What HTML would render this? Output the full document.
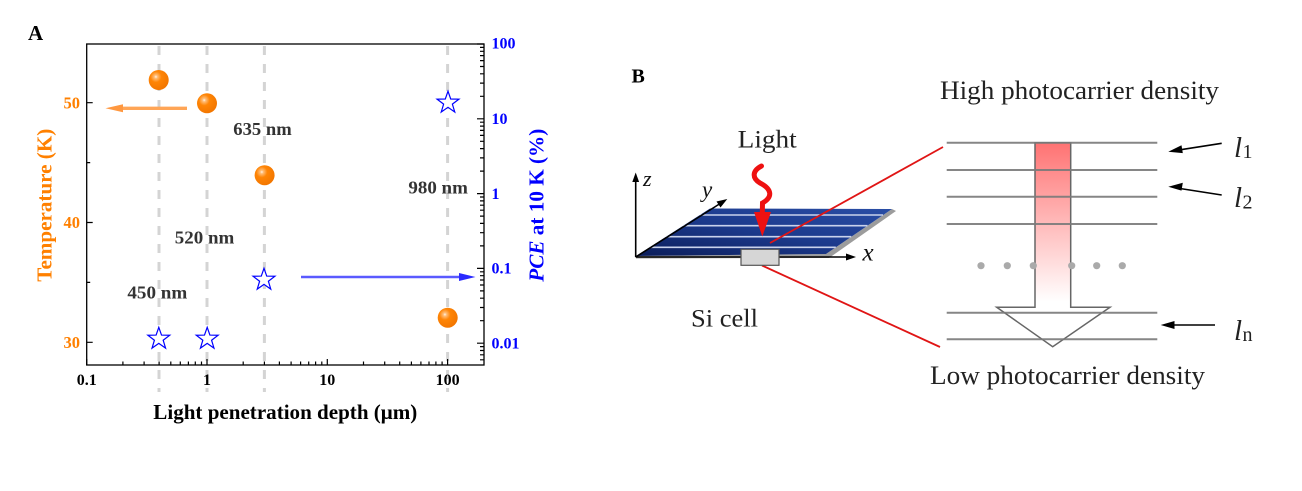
<!DOCTYPE html>
<html><head><meta charset="utf-8"><style>
html,body{margin:0;padding:0;background:#fff;}
svg{display:block;}
</style></head><body>
<svg width="1302" height="491" viewBox="0 0 1302 491" xmlns="http://www.w3.org/2000/svg">
<defs>
<radialGradient id="ball" cx="0.36" cy="0.34" r="0.68">
<stop offset="0" stop-color="#fff4e8"/>
<stop offset="0.12" stop-color="#ffbd78"/>
<stop offset="0.4" stop-color="#ff8505"/>
<stop offset="1" stop-color="#f27600"/>
</radialGradient>
<linearGradient id="panel" x1="0" y1="1" x2="1" y2="0">
<stop offset="0" stop-color="#0b1d5a"/>
<stop offset="0.5" stop-color="#1c3a8c"/>
<stop offset="1" stop-color="#2a4ea6"/>
</linearGradient>
<linearGradient id="arr" x1="0" y1="142" x2="0" y2="330" gradientUnits="userSpaceOnUse">
<stop offset="0" stop-color="#ff7272"/>
<stop offset="0.85" stop-color="#ffffff"/>
<stop offset="1" stop-color="#ffffff"/>
</linearGradient>
<polygon id="star" points="0,-11.5 2.70,-3.72 10.94,-3.55 4.38,1.42 6.76,9.30 0,4.6 -6.76,9.30 -4.38,1.42 -10.94,-3.55 -2.70,-3.72" fill="#fff" stroke="#0000ff" stroke-width="1.2" stroke-linejoin="miter"/>
</defs>
<rect width="1302" height="491" fill="#fff"/>

<!-- Panel A -->
<text x="28" y="40" font-family="Liberation Serif, serif" font-weight="bold" font-size="21">A</text>

<g stroke="#d4d4d4" stroke-width="3" stroke-dasharray="9 9">
<line x1="159" y1="46" x2="159" y2="392"/>
<line x1="207" y1="46" x2="207" y2="392"/>
<line x1="264.4" y1="46" x2="264.4" y2="392"/>
<line x1="447.6" y1="46" x2="447.6" y2="392"/>
</g>

<rect x="86.7" y="44" width="397.3" height="321" fill="none" stroke="#000" stroke-width="1.3"/>

<path stroke="#000" stroke-width="1.2" fill="none" d="
M86.7 365v-6 M207 365v-6 M327.3 365v-6 M447.6 365v-6
M122.9 365v-3.5 M144.1 365v-3.5 M159.1 365v-3.5 M170.8 365v-3.5 M180.3 365v-3.5 M188.4 365v-3.5 M195.3 365v-3.5 M201.5 365v-3.5
M243.2 365v-3.5 M264.4 365v-3.5 M279.4 365v-3.5 M291.1 365v-3.5 M300.6 365v-3.5 M308.7 365v-3.5 M315.6 365v-3.5 M321.8 365v-3.5
M363.5 365v-3.5 M384.7 365v-3.5 M399.7 365v-3.5 M411.4 365v-3.5 M420.9 365v-3.5 M429 365v-3.5 M435.9 365v-3.5 M442.1 365v-3.5
"/>
<path stroke="#000" stroke-width="1.2" fill="none" d="
M86.7 102.7h6 M86.7 222.5h6 M86.7 342.3h6 M86.7 162.6h3.5 M86.7 282.4h3.5"/>
<path stroke="#000" stroke-width="1.2" fill="none" d="
M484 44h-7 M484 118.8h-7 M484 193.6h-7 M484 268.4h-7 M484 343.2h-7
M484 359.8h-4 M484 354.8h-4 M484 350.5h-4 M484 346.6h-4
M484 320.7h-4 M484 307.5h-4 M484 298.2h-4 M484 290.9h-4 M484 285h-4 M484 280h-4 M484 275.7h-4 M484 271.8h-4
M484 245.9h-4 M484 232.7h-4 M484 223.4h-4 M484 216.1h-4 M484 210.2h-4 M484 205.2h-4 M484 200.9h-4 M484 197h-4
M484 171.1h-4 M484 157.9h-4 M484 148.6h-4 M484 141.3h-4 M484 135.4h-4 M484 130.4h-4 M484 126.1h-4 M484 122.2h-4
M484 96.3h-4 M484 83.1h-4 M484 73.8h-4 M484 66.5h-4 M484 60.6h-4 M484 55.6h-4 M484 51.3h-4 M484 47.4h-4
"/>

<g font-family="Liberation Serif, serif" font-weight="bold" font-size="16" fill="#000" text-anchor="middle">
<text x="86.7" y="385">0.1</text>
<text x="207" y="385">1</text>
<text x="327.3" y="385">10</text>
<text x="447.6" y="385">100</text>
</g>
<g font-family="Liberation Serif, serif" font-weight="bold" font-size="16.5" fill="#ff8000" text-anchor="end">
<text x="80" y="108.3">50</text>
<text x="80" y="228">40</text>
<text x="80" y="347.8">30</text>
</g>
<g font-family="Liberation Serif, serif" font-weight="bold" font-size="16" fill="#0000ff">
<text x="491.5" y="48.5">100</text>
<text x="491.5" y="124">10</text>
<text x="491.5" y="199">1</text>
<text x="491.5" y="273.5">0.1</text>
<text x="491.5" y="348.3">0.01</text>
</g>

<text x="153.3" y="419" font-family="Liberation Serif, serif" font-weight="bold" font-size="21" fill="#000" textLength="264" lengthAdjust="spacingAndGlyphs">Light penetration depth (μm)</text>
<text transform="translate(51.5,281.7) rotate(-90)" x="0" y="0" font-family="Liberation Serif, serif" font-weight="bold" font-size="21" fill="#ff8000" textLength="153" lengthAdjust="spacingAndGlyphs">Temperature (K)</text>
<text transform="translate(543.5,281.7) rotate(-90)" x="0" y="0" font-family="Liberation Serif, serif" font-weight="bold" font-size="21" fill="#0000ff" textLength="153" lengthAdjust="spacingAndGlyphs"><tspan font-style="italic">PCE</tspan> at 10 K (%)</text>

<g font-family="Liberation Serif, serif" font-weight="bold" font-size="18" fill="#333">
<text x="233.3" y="135" textLength="58.4" lengthAdjust="spacingAndGlyphs">635 nm</text>
<text x="408.4" y="193.3" textLength="59.5" lengthAdjust="spacingAndGlyphs">980 nm</text>
<text x="174.8" y="243.3" textLength="59.5" lengthAdjust="spacingAndGlyphs">520 nm</text>
<text x="127.4" y="298.3" textLength="59.9" lengthAdjust="spacingAndGlyphs">450 nm</text>
</g>

<line x1="187" y1="108.3" x2="120" y2="108.3" stroke="#ffa556" stroke-width="3.3"/>
<polygon points="105.5,108.3 123,104.3 123,112.3" fill="#ff9840"/>
<line x1="301" y1="277" x2="462" y2="277" stroke="#5a5aff" stroke-width="2.6"/>
<polygon points="475.5,277 459,273 459,281" fill="#2a2aff"/>

<circle cx="158.7" cy="80" r="10" fill="url(#ball)"/>
<circle cx="207" cy="103.3" r="10" fill="url(#ball)"/>
<circle cx="264.6" cy="175.2" r="10" fill="url(#ball)"/>
<circle cx="447.7" cy="317.7" r="10" fill="url(#ball)"/>

<use href="#star" x="158.8" y="338.8"/>
<use href="#star" x="207.2" y="338.8"/>
<use href="#star" x="264" y="279.8"/>
<use href="#star" x="448" y="102.7"/>

<!-- Panel B -->
<text x="631.5" y="82.7" font-family="Liberation Serif, serif" font-weight="bold" font-size="20">B</text>
<text x="737.7" y="147.3" font-family="Liberation Serif, serif" font-size="25" fill="#222" textLength="59" lengthAdjust="spacingAndGlyphs">Light</text>
<text x="691" y="326.7" font-family="Liberation Serif, serif" font-size="25" fill="#222" textLength="67" lengthAdjust="spacingAndGlyphs">Si cell</text>

<polygon points="636,256 826,254 892,209 896,211 829,258 636,258.5" fill="#9c9c9c"/>
<polygon points="636,256 710,208.5 892,209 826,254" fill="url(#panel)"/>
<g stroke="#c9d2ec" stroke-width="1.6">
<line x1="700" y1="215" x2="883" y2="215"/>
<line x1="683" y1="225.7" x2="867.5" y2="225.7"/>
<line x1="666" y1="236.7" x2="851.3" y2="236.7"/>
<line x1="649.6" y1="247.3" x2="835.8" y2="247.3"/>
</g>

<g stroke="#000" stroke-width="1.6" fill="none">
<line x1="635.7" y1="257" x2="635.7" y2="180"/>
<line x1="635.7" y1="257" x2="848" y2="257"/>
<line x1="635.7" y1="257" x2="721" y2="203"/>
</g>
<polygon points="635.7,172.5 632.3,182 639.1,182" fill="#000"/>
<polygon points="856,257 846,253.5 846,260.5" fill="#000"/>
<polygon points="727.3,199 716.5,201.5 720.5,207.5" fill="#000"/>
<g font-family="Liberation Serif, serif" font-style="italic" fill="#111">
<text x="643" y="186" font-size="22">z</text>
<text x="702" y="197" font-size="23">y</text>
<text x="862.5" y="260.5" font-size="25">x</text>
</g>

<path d="M761.5,166 C752,171 752,178 760,183 C772,189 773,197 762.5,203 L762.3,213" stroke="#ee1111" stroke-width="5" fill="none" stroke-linecap="round"/>
<polygon points="754,212 771,212 762.3,236.5" fill="#ee1111"/>

<line x1="770" y1="243" x2="943" y2="147" stroke="#e01515" stroke-width="1.8"/>
<line x1="762" y1="265.5" x2="940" y2="347" stroke="#e01515" stroke-width="1.8"/>
<rect x="741" y="249.3" width="38" height="16" fill="#d6d6d6" stroke="#555" stroke-width="1.2"/>

<text x="940" y="99" font-family="Liberation Serif, serif" font-size="26" fill="#222" textLength="279" lengthAdjust="spacingAndGlyphs">High photocarrier density</text>
<text x="930" y="384" font-family="Liberation Serif, serif" font-size="26" fill="#222" textLength="275" lengthAdjust="spacingAndGlyphs">Low photocarrier density</text>

<polygon points="1035,142.7 1070.7,142.7 1070.7,307.3 1110,307.3 1052.7,346.7 996.7,307.3 1035,307.3" fill="url(#arr)" stroke="#666" stroke-width="1.5" stroke-linejoin="miter"/>
<g stroke="#7a7a7a" stroke-width="2" opacity="0.9">
<line x1="946.7" y1="142.7" x2="1157.3" y2="142.7"/>
<line x1="946.7" y1="170" x2="1157.3" y2="170"/>
<line x1="946.7" y1="196.7" x2="1157.3" y2="196.7"/>
<line x1="946.7" y1="224" x2="1157.3" y2="224"/>
<line x1="946.7" y1="312.7" x2="1157.3" y2="312.7"/>
<line x1="946.7" y1="339.3" x2="1157.3" y2="339.3"/>
</g>
<g fill="#aaa">
<circle cx="981" cy="265.7" r="3.6"/>
<circle cx="1007.3" cy="265.7" r="3.6"/>
<circle cx="1033.3" cy="265.7" r="3.6"/>
<circle cx="1071.7" cy="265.7" r="3.6"/>
<circle cx="1096.7" cy="265.7" r="3.6"/>
<circle cx="1122.3" cy="265.7" r="3.6"/>
</g>

<g stroke="#000" stroke-width="1.6">
<line x1="1221.7" y1="143.3" x2="1180" y2="149.8"/>
<line x1="1221.7" y1="195" x2="1180" y2="188.5"/>
<line x1="1215" y1="325" x2="1173" y2="325"/>
</g>
<polygon points="1168.3,151.7 1181.5,145.3 1182.8,153.1" fill="#000"/>
<polygon points="1168.3,186.7 1182.8,182.8 1181.5,190.6" fill="#000"/>
<polygon points="1160.7,325 1174.5,321 1174.5,329" fill="#000"/>

<g font-family="Liberation Serif, serif" fill="#222">
<text x="1234" y="157" font-size="29" font-style="italic">l</text>
<text x="1242.5" y="158" font-size="20">1</text>
<text x="1234" y="207" font-size="29" font-style="italic">l</text>
<text x="1242.5" y="208.5" font-size="20">2</text>
<text x="1234" y="340" font-size="29" font-style="italic">l</text>
<text x="1242.5" y="341" font-size="20">n</text>
</g>
</svg>
</body></html>
